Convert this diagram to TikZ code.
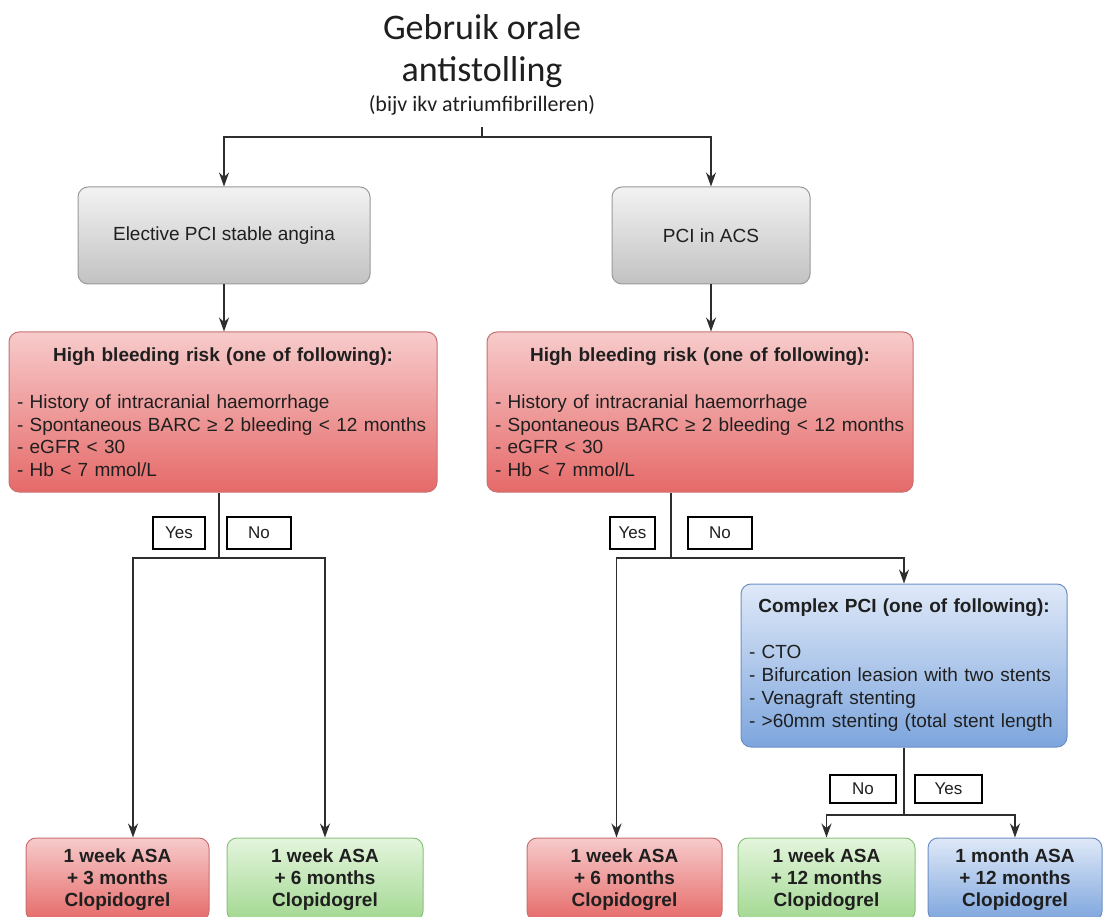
\documentclass[tikz,border=0pt]{standalone}
\usepackage{fontspec}
\setmainfont{Liberation Sans}
\newfontfamily\titlefont{Carlito}
\usepackage{xcolor}
\definecolor{linegray}{HTML}{2E2E2E}
\definecolor{graytop}{HTML}{F2F2F2}
\definecolor{graybot}{HTML}{C2C2C2}
\definecolor{grayedge}{HTML}{9A9A9A}
\definecolor{redtop}{HTML}{F7CBCB}
\definecolor{redbot}{HTML}{E56A69}
\definecolor{rededge}{HTML}{C97070}
\definecolor{greentop}{HTML}{E4F5DD}
\definecolor{greenbot}{HTML}{A2D891}
\definecolor{greenedge}{HTML}{8CC17C}
\definecolor{bluetop}{HTML}{DFE9F8}
\definecolor{bluebot}{HTML}{7DA5DD}
\definecolor{blueedge}{HTML}{6D8FC4}
\usetikzlibrary{arrows.meta}

\begin{document}
\begin{tikzpicture}[x=1pt, y=-1pt, >={Stealth[length=14pt, width=10pt]},
    every node/.style={font=\fontsize{19}{22.5}\selectfont, text=black!88},
    flow/.style={draw=linegray, line width=1.5pt},
    card/.style={rounded corners=10pt, line width=1pt, inner xsep=8pt, inner ysep=0pt},
    graybox/.style={card, draw=grayedge, top color=graytop, bottom color=graybot},
    redbox/.style={card, draw=rededge, top color=redtop, bottom color=redbot},
    greenbox/.style={card, draw=greenedge, top color=greentop, bottom color=greenbot},
    bluebox/.style={card, draw=blueedge, top color=bluetop, bottom color=bluebot},
    choice/.style={draw=black, line width=1.2pt, fill=white, inner sep=0pt, minimum height=32pt, font=\fontsize{17}{19}\selectfont},
    outcome/.style={font=\bfseries\fontsize{19}{22}\selectfont, align=center, minimum height=83pt, inner sep=0pt}]
    \useasboundingbox (0,0) rectangle (1104,917);
    \clip (0,0) rectangle (1104,917);

    % Title
    \node[align=center, font=\titlefont\fontsize{36}{42}\selectfont] (title) at (482,51) {Gebruik orale\\antistolling};
    \node[anchor=base, font=\titlefont\fontsize{22}{26}\selectfont] (titlenote) at (482,112) {(bijv ikv atriumfibrilleren)};

    % Indications
    \node[graybox, minimum width=292pt, minimum height=97pt] (elective) at (224,235.5) {Elective PCI stable angina};
    \node[graybox, minimum width=198pt, minimum height=97pt] (acs) at (711,235.5) {PCI in ACS};

    % Risk boxes
    \node[redbox, minimum height=160pt, text width=412pt] (hbrleft) at (223,412) {\centering\textbf{High bleeding risk (one of following):}\par\vspace{25pt}\raggedright
      - History of intracranial haemorrhage\\
      - Spontaneous BARC ≥ 2 bleeding < 12 months\\
      - eGFR < 30\\
      - Hb < 7 mmol/L};
    \node[redbox, minimum height=160pt, text width=410pt] (hbrright) at (700,412) {\centering\textbf{High bleeding risk (one of following):}\par\vspace{25pt}\raggedright
      - History of intracranial haemorrhage\\
      - Spontaneous BARC ≥ 2 bleeding < 12 months\\
      - eGFR < 30\\
      - Hb < 7 mmol/L};
    \node[bluebox, minimum height=163pt, text width=310pt, font=\fontsize{19}{23}\selectfont] (complex) at (904,665.5) {\centering\textbf{Complex PCI (one of following):}\par\vspace{23pt}\raggedright
      - CTO\\
      - Bifurcation leasion with two stents\\
      - Venagraft stenting\\
      - >60mm stenting (total stent length};

    % Yes / No labels
    \node[choice, minimum width=52pt] (yesleft) at (179,533) {Yes};
    \node[choice, minimum width=64pt] (noleft) at (259,533) {No};
    \node[choice, minimum width=45pt] (yesright) at (632.5,533) {Yes};
    \node[choice, minimum width=64pt] (noright) at (720,533) {No};
    \node[choice, minimum width=66pt, minimum height=28pt] (nocomplex) at (863,789) {No};
    \node[choice, minimum width=67pt, minimum height=28pt] (yescomplex) at (948.5,789) {Yes};

    % Outcomes
    \node[redbox, outcome, minimum width=183pt] (resa) at (117.5,879.5) {1 week ASA\\+ 3 months\\Clopidogrel};
    \node[greenbox, outcome, minimum width=196pt] (resb) at (325,879.5) {1 week ASA\\+ 6 months\\Clopidogrel};
    \node[redbox, outcome, minimum width=195pt] (resc) at (624.5,879.5) {1 week ASA\\+ 6 months\\Clopidogrel};
    \node[greenbox, outcome, minimum width=177pt] (resd) at (826.5,879.5) {1 week ASA\\+ 12 months\\Clopidogrel};
    \node[bluebox, outcome, minimum width=174pt] (rese) at (1015,879.5) {1 month ASA\\+ 12 months\\Clopidogrel};

    % Connectors
    \coordinate (fork) at (482,137);
    \coordinate (splitleft) at (219,558);
    \coordinate (splitright) at (671,558);
    \coordinate (splitcomplex) at (904,815);
    \draw[flow] (fork) -- ++(0,-10);
    \draw[flow, ->] (fork) -| (elective);
    \draw[flow, ->] (fork) -| (acs);
    \draw[flow, ->] (elective.south) -- (elective.south |- hbrleft.north);
    \draw[flow, ->] (acs.south) -- (acs.south |- hbrright.north);
    \draw[flow] (hbrleft.south -| splitleft) -- (splitleft);
    \draw[flow, ->] (splitleft) -| ([xshift=15.5pt]resa.north);
    \draw[flow, ->] (splitleft) -| (resb);
    \draw[flow] (hbrright.south -| splitright) -- (splitright);
    \draw[flow, ->] (splitright) -| ([xshift=-8pt]resc.north);
    \draw[flow, ->] (splitright) -| (complex);
    \draw[flow] (complex.south) -- (splitcomplex);
    \draw[flow, ->] (splitcomplex) -| (resd);
    \draw[flow, ->] (splitcomplex) -| (rese);
\end{tikzpicture}
\end{document}
